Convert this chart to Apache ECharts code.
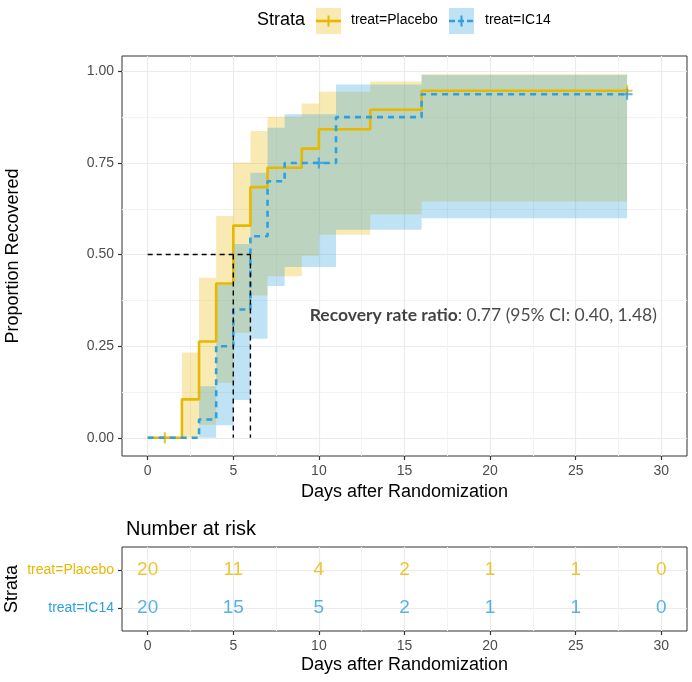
<!DOCTYPE html>
<html><head><meta charset="utf-8">
<script src="https://cdn.jsdelivr.net/npm/echarts@6/dist/echarts.min.js"></script>
<style>html,body{margin:0;padding:0;background:#fff}#c{width:692px;height:682px}</style>
</head><body><div id="c"></div>
<script>
// ---------- data ----------
const strataNames = ['treat=Placebo', 'treat=IC14'];
const strataColors = ['#E7B800', '#2E9FDF'];

// Kaplan-Meier step curves (proportion recovered)
const placeboTimes  = [0, 2, 3, 4, 5, 6, 7, 9, 10, 13, 16, 28];
const placeboValues = [0, 0.105, 0.263, 0.421, 0.579, 0.684, 0.737, 0.789, 0.842, 0.895, 0.947, 0.947];
const ic14Times  = [0, 3, 4, 5, 6, 7, 8, 11, 16, 28];
const ic14Values = [0, 0.05, 0.25, 0.35, 0.55, 0.70, 0.75, 0.875, 0.9375, 0.9375];

// 95% confidence bands (one value per step interval)
const placeboLower = [0, 0, 0.036, 0.150, 0.287, 0.388, 0.441, 0.497, 0.554, 0.609, 0.645];
const placeboUpper = [0, 0.233, 0.437, 0.605, 0.751, 0.837, 0.876, 0.912, 0.944, 0.972, 0.992];
const ic14Lower = [0, 0, 0.034, 0.103, 0.270, 0.414, 0.466, 0.568, 0.599];
const ic14Upper = [0, 0.141, 0.418, 0.529, 0.723, 0.846, 0.883, 0.964, 0.990];

// censoring marks
const placeboCensorTimes  = [1, 28];
const placeboCensorValues = [0, 0.947];
const ic14CensorTimes  = [10, 28];
const ic14CensorValues = [0.75, 0.9375];

// median recovery times
const medianTimes = [5, 6];
const medianLevel = 0.5;

// number at risk table
const riskTimes   = [0, 5, 10, 15, 20, 25, 30];
const placeboRisk = [20, 11, 4, 2, 1, 1, 0];
const ic14Risk    = [20, 15, 5, 2, 1, 1, 0];
const riskRows    = [2, 1]; // Placebo row, IC14 row

// axes
const xTicks = [0, 5, 10, 15, 20, 25, 30];
const xMinorTicks = [2.5, 7.5, 12.5, 17.5, 22.5, 27.5];
const yTicks = [0, 0.25, 0.5, 0.75, 1];
const yMinorTicks = [0.125, 0.375, 0.625, 0.875];

const annotationBold = 'Recovery rate ratio';
const annotationRest = ': 0.77 (95% CI: 0.40, 1.48)';
const annotationAt = [19.6, 0.333];

// ---------- helpers ----------
const FONT = '"Liberation Sans", Arial, sans-serif';
const ANNO_FONT = 'Lato, "Open Sans", sans-serif';
function rgba(hex, a) {
  const n = parseInt(hex.slice(1), 16);
  return 'rgba(' + ((n >> 16) & 255) + ',' + ((n >> 8) & 255) + ',' + (n & 255) + ',' + a + ')';
}
function pairs(xs, ys) { return xs.map((x, i) => [x, ys[i]]); }

function bandSeries(name, times, lower, upper, color) {
  const data = lower.map((lo, i) => [times[i], times[i + 1], lo, upper[i]]);
  return {
    type: 'custom', name: name, xAxisIndex: 0, yAxisIndex: 0, silent: true,
    data: data, encode: { x: [0, 1], y: [2, 3] },
    renderItem: function (params, api) {
      if (params.dataIndex !== 0) return null;
      const top = [], bot = [];
      data.forEach(d => {
        top.push(api.coord([d[0], d[3]]), api.coord([d[1], d[3]]));
        bot.push(api.coord([d[0], d[2]]), api.coord([d[1], d[2]]));
      });
      return { type: 'polygon', shape: { points: top.concat(bot.reverse()) },
               style: { fill: rgba(color, 0.3) } };
    }
  };
}
const plusPath = 'path://M4,0H6V4H10V6H6V10H4V6H0V4H4Z';

function lineSeries(name, times, values, color, type) {
  return { type: 'line', name: name, xAxisIndex: 0, yAxisIndex: 0, step: 'end',
    showSymbol: false, symbol: 'none', silent: true, data: pairs(times, values),
    lineStyle: { color: color, width: 2.6, type: type } };
}
function censorSeries(name, times, values, color) {
  return { type: 'scatter', name: name, xAxisIndex: 0, yAxisIndex: 0, silent: true,
    symbol: plusPath, symbolSize: 11, data: pairs(times, values),
    itemStyle: { color: color } };
}
function segment(pts) {
  return { type: 'line', xAxisIndex: 0, yAxisIndex: 0, silent: true, symbol: 'none',
    data: pts, lineStyle: { color: '#000', width: 1.4, type: [5, 4] } };
}
function riskSeries(counts, row, color) {
  return { type: 'scatter', xAxisIndex: 2, yAxisIndex: 2, silent: true, symbolSize: 0,
    data: counts.map((n, i) => [riskTimes[i], row, n]),
    label: { show: true, position: 'inside', formatter: p => String(p.value[2]),
      fontFamily: FONT, fontSize: 19, color: color } };
}

const majorGrid = { show: true, lineStyle: { color: '#EBEBEB', width: 1.2 } };
const minorGrid = { show: true, lineStyle: { color: '#F3F3F3', width: 1 } };
const tickLabel = { color: '#4D4D4D', fontSize: 14, fontFamily: FONT };
const axisTitle = { color: '#000', fontSize: 18, fontFamily: FONT };
const noLine = { show: false, onZero: false };

function xMajor(gridIndex) {
  return { gridIndex: gridIndex, type: 'value', min: -1.5, max: 31.5, position: 'bottom',
    axisLine: noLine,
    axisTick: { show: true, customValues: xTicks, length: 4, lineStyle: { color: '#333', width: 1.2 } },
    axisLabel: Object.assign({ customValues: xTicks, margin: 8 }, tickLabel),
    splitLine: majorGrid,
    name: 'Days after Randomization', nameLocation: 'middle', nameGap: 25, nameTextStyle: axisTitle };
}
function xMinor(gridIndex) {
  return { gridIndex: gridIndex, type: 'value', min: -1.5, max: 31.5, position: 'bottom',
    axisLine: noLine, axisTick: { show: false, customValues: xMinorTicks },
    axisLabel: { show: false, customValues: xMinorTicks }, splitLine: minorGrid };
}

const option = {
  backgroundColor: '#fff',
  animation: false,
  title: { text: 'Number at risk', left: 121, top: 514,
    textStyle: { fontFamily: FONT, fontSize: 20, fontWeight: 'normal', color: '#000' } },
  grid: [
    { left: 122, top: 56, width: 565, height: 400, show: true, borderColor: '#333', borderWidth: 1,
      backgroundColor: 'transparent', containLabel: false, outerBoundsMode: 'none' },
    { left: 122, top: 547, width: 565, height: 84, show: true, borderColor: '#333', borderWidth: 1,
      backgroundColor: 'transparent', containLabel: false, outerBoundsMode: 'none' }
  ],
  xAxis: [ xMajor(0), xMinor(0), xMajor(1), xMinor(1) ],
  yAxis: [
    { gridIndex: 0, type: 'value', min: -0.0496, max: 1.0418, position: 'left', axisLine: noLine,
      axisTick: { show: true, customValues: yTicks, length: 4, lineStyle: { color: '#333', width: 1.2 } },
      axisLabel: Object.assign({ customValues: yTicks, margin: 8, formatter: v => v.toFixed(2) }, tickLabel),
      splitLine: majorGrid,
      name: 'Proportion Recovered', nameLocation: 'middle', nameGap: 100, nameRotate: 90,
      nameMoveOverlap: false, nameTextStyle: axisTitle },
    { gridIndex: 0, type: 'value', min: -0.0496, max: 1.0418, position: 'left', axisLine: noLine,
      axisTick: { show: false, customValues: yMinorTicks }, axisLabel: { show: false, customValues: yMinorTicks },
      splitLine: minorGrid },
    { gridIndex: 1, type: 'value', min: 0.4, max: 2.6, position: 'left', axisLine: noLine,
      axisTick: { show: true, customValues: riskRows, length: 4, lineStyle: { color: '#333', width: 1.2 } },
      axisLabel: { customValues: riskRows, margin: 8, fontFamily: FONT, fontSize: 14,
        formatter: v => v === riskRows[0] ? '{a|' + strataNames[0] + '}' : '{b|' + strataNames[1] + '}',
        rich: { a: { color: strataColors[0], fontSize: 14, fontFamily: FONT },
                b: { color: strataColors[1], fontSize: 14, fontFamily: FONT } } },
      splitLine: majorGrid,
      name: 'Strata', nameLocation: 'middle', nameGap: 101, nameRotate: 90,
      nameMoveOverlap: false, nameTextStyle: axisTitle }
  ],
  series: [
    lineSeries(strataNames[0], placeboTimes, placeboValues, strataColors[0], 'solid'),
    lineSeries(strataNames[1], ic14Times, ic14Values, strataColors[1], [6, 5]),
    bandSeries('ci0', placeboTimes, placeboLower, placeboUpper, strataColors[0]),
    bandSeries('ci1', ic14Times, ic14Lower, ic14Upper, strataColors[1]),
    censorSeries('c0', placeboCensorTimes, placeboCensorValues, strataColors[0]),
    censorSeries('c1', ic14CensorTimes, ic14CensorValues, strataColors[1]),
    segment([[0, medianLevel], [Math.max.apply(null, medianTimes), medianLevel]]),
    segment([[medianTimes[0], medianLevel], [medianTimes[0], 0]]),
    segment([[medianTimes[1], medianLevel], [medianTimes[1], 0]]),
    { type: 'scatter', xAxisIndex: 0, yAxisIndex: 0, silent: true, symbolSize: 0, data: [annotationAt],
      label: { show: true, position: 'inside', formatter: '{b|' + annotationBold + '}{r|' + annotationRest + '}',
        rich: { b: { fontWeight: 'bold', fontFamily: ANNO_FONT, fontSize: 17.5, color: '#111' },
                r: { fontFamily: ANNO_FONT, fontSize: 17.5, color: '#1A1A1A' } } } },
    riskSeries(placeboRisk, riskRows[0], strataColors[0]),
    riskSeries(ic14Risk, riskRows[1], strataColors[1])
  ],
  graphic: [
    { type: 'text', left: 257, top: 11, style: { text: 'Strata', font: '18px ' + FONT, fill: '#000' } },
    { type: 'rect', shape: { x: 316, y: 8, width: 25, height: 26 }, style: { fill: rgba(strataColors[0], 0.3) } },
    { type: 'line', shape: { x1: 316, y1: 21, x2: 341, y2: 21 }, style: { stroke: strataColors[0], lineWidth: 2.6 } },
    { type: 'line', shape: { x1: 328.5, y1: 15.5, x2: 328.5, y2: 26.5 }, style: { stroke: strataColors[0], lineWidth: 2 } },
    { type: 'text', left: 351, top: 13, style: { text: strataNames[0], font: '14px ' + FONT, fill: '#000' } },
    { type: 'rect', shape: { x: 449, y: 8, width: 25, height: 26 }, style: { fill: rgba(strataColors[1], 0.3) } },
    { type: 'line', shape: { x1: 449, y1: 21, x2: 474, y2: 21 }, style: { stroke: strataColors[1], lineWidth: 2.6, lineDash: [6, 3] } },
    { type: 'line', shape: { x1: 461.5, y1: 15.5, x2: 461.5, y2: 26.5 }, style: { stroke: strataColors[1], lineWidth: 2 } },
    { type: 'text', left: 485, top: 13, style: { text: strataNames[1], font: '14px ' + FONT, fill: '#000' } }
  ]
};
const chart = echarts.init(document.getElementById('c'), null, { renderer: 'canvas' });
chart.setOption(option);
</script></body></html>
